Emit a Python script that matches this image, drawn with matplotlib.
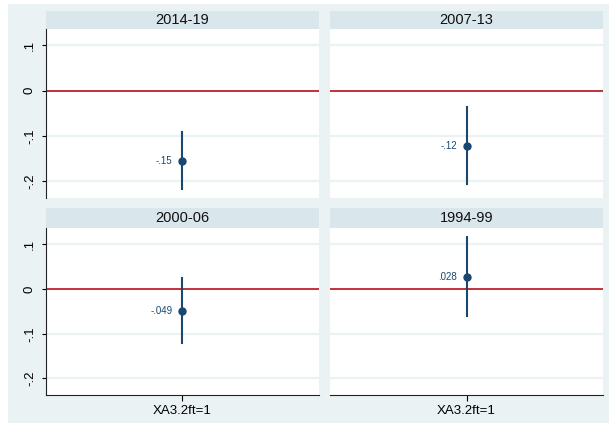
import matplotlib.pyplot as plt
import numpy as np

plt.rcParams['font.family'] = ['Liberation Sans', 'DejaVu Sans']

# coefficient estimates with 95% CIs, one panel per period
periods = ["2014-19", "2007-13", "2000-06", "1994-99"]
coef = [-0.155, -0.122, -0.049, 0.028]
ci_low = [-0.218, -0.205, -0.120, -0.061]
ci_high = [-0.091, -0.037, 0.024, 0.117]
coef_labels = ["-.15", "-.12", "-.049", ".028"]
yticks = [0.1, 0, -0.1, -0.2]
ytick_labels = [".1", "0", "-.1", "-.2"]
xlabel = "XA3.2ft=1"

W, H = 609, 423
bg = "#EAF2F3"
strip = "#D9E6EB"
navy = "#1A476F"
red = "#C4323B"

fig = plt.figure(figsize=(W / 100, H / 100), dpi=100)
fig.patch.set_facecolor("white")
fig.add_artist(plt.Rectangle((8 / W, 0), 1, 1 - 4 / H, transform=fig.transFigure,
                             facecolor=bg, edgecolor="none", zorder=0))


def box(x0, y0, x1, y1):
    # pixel box (top-left origin) -> figure fraction rect
    return [x0 / W, 1 - y1 / H, (x1 - x0) / W, (y1 - y0) / H]


cols = [(45.7, 319.0), (329.7, 603.3)]
rows = [(11.0, 29.0, 198.0), (208.3, 228.3, 395.0)]

for k, name in enumerate(periods):
    r, c = divmod(k, 2)
    x0, x1 = cols[c]
    t0, p0, p1 = rows[r]

    st = fig.add_axes(box(x0, t0, x1, p0))
    st.set_facecolor(strip)
    st.set_xticks([])
    st.set_yticks([])
    for s in st.spines.values():
        s.set_visible(False)
    st.text(0.5, 0.5, name, ha="center", va="center", fontsize=10.5,
            color="#111111", transform=st.transAxes)

    ax = fig.add_axes(box(x0, p0, x1, p1))
    ax.set_facecolor("white")
    ax.set_xlim(-1, 1)
    ax.set_ylim(-0.237, 0.136)
    for yv in yticks:
        ax.axhline(yv, color=bg, lw=1.6, zorder=1)
    ax.axhline(0, color=red, lw=1.4, zorder=2)

    ax.plot([0, 0], [ci_low[k], ci_high[k]], color=navy, lw=1.5, zorder=3)
    ax.plot(0, coef[k], "o", color=navy, ms=5, zorder=4)
    ax.annotate(coef_labels[k], (0, coef[k]), xytext=(-7, 0),
                textcoords="offset points", ha="right", va="center",
                fontsize=7, color=navy)

    for s in ["top", "right"]:
        ax.spines[s].set_visible(False)
    ax.spines["left"].set_visible(c == 0)
    ax.spines["bottom"].set_visible(r == 1)
    ax.spines["left"].set_color("#222222")
    ax.spines["bottom"].set_color("#222222")

    ax.set_yticks(yticks)
    if c == 0:
        ax.set_yticklabels(ytick_labels, rotation=90, va="center", fontsize=9.5)
        ax.tick_params(axis="y", length=3, width=0.8, pad=4)
    else:
        ax.tick_params(axis="y", left=False, labelleft=False)

    if r == 1:
        ax.set_xticks([0])
        ax.set_xticklabels([xlabel], fontsize=9.5)
        ax.tick_params(axis="x", length=4, width=0.8, pad=3)
    else:
        ax.set_xticks([])

fig.savefig("out.png", dpi=100, facecolor="white")
